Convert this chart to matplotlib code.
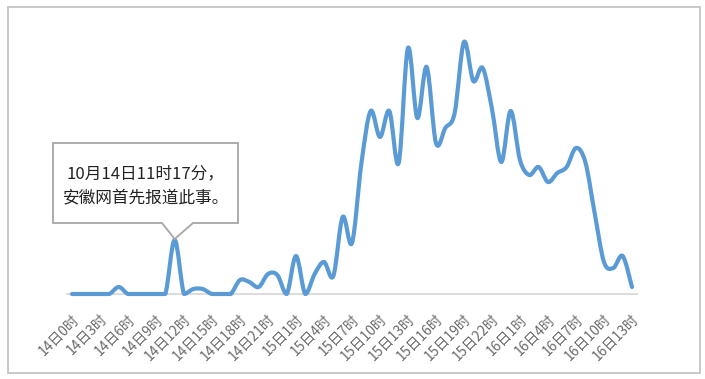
import matplotlib
matplotlib.use("Agg")
import matplotlib.pyplot as plt
import numpy as np
from matplotlib.path import Path
from matplotlib.patches import PathPatch, Polygon, Rectangle

plt.rcParams['font.family'] = ['Noto Sans CJK SC', 'DejaVu Sans']

# hourly counts, 14日0时 .. 16日13时 (61 points)
values = [0, 0, 0, 0, 0, 7, 0, 0, 0, 0,
          0, 54, 0, 5, 5, 0, 0, 0, 14, 12,
          7, 20, 19, 0, 38, 0, 20, 32, 18, 77,
          51, 130, 183, 157, 183, 131, 246, 176, 227, 151,
          166, 181, 252, 213, 226, 185, 132, 183, 134, 119,
          127, 112, 121, 127, 146, 132, 81, 32, 26, 38,
          7]
tick_labels = ["14日0时", "14日3时", "14日6时", "14日9时", "14日12时", "14日15时",
               "14日18时", "14日21时", "15日1时", "15日4时", "15日7时", "15日10时",
               "15日13时", "15日16时", "15日19时", "15日22时", "16日1时", "16日4时",
               "16日7时", "16日10时", "16日13时"]
callout_idx = 11
callout_text = "10月14日11时17分，\n安徽网首先报道此事。"

W, H = 705, 379
fig = plt.figure(figsize=(W / 100, H / 100), dpi=100)
ax = fig.add_axes([72 / W - 0.5 * 9.333 / W, 1 - 294 / H, (60 + 1) * 9.333 / W, 270 / H])

x = np.arange(len(values))
y = np.array(values, dtype=float)

# smooth line like Excel: cubic bezier segments through every point
verts = [(x[0], y[0])]
codes = [Path.MOVETO]
n = len(x)
for i in range(n - 1):
    p0 = np.array([x[max(i - 1, 0)], y[max(i - 1, 0)]])
    p1 = np.array([x[i], y[i]])
    p2 = np.array([x[i + 1], y[i + 1]])
    p3 = np.array([x[min(i + 2, n - 1)], y[min(i + 2, n - 1)]])
    c1 = p1 + (p2 - p0) / 6
    c2 = p2 - (p3 - p1) / 6
    c1[1] = max(c1[1], 0)
    c2[1] = max(c2[1], 0)
    verts += [tuple(c1), tuple(c2), tuple(p2)]
    codes += [Path.CURVE4] * 3
ax.add_patch(PathPatch(Path(verts, codes), facecolor='none', edgecolor='#5B9BD5',
                       lw=3.0, capstyle='round', joinstyle='round', clip_on=False, zorder=3))

ax.set_xlim(-0.5, n - 0.5)
ax.set_ylim(0, 270)
for s in ['top', 'right', 'left']:
    ax.spines[s].set_visible(False)
ax.spines['bottom'].set_color('#d9d9d9')
ax.spines['bottom'].set_linewidth(1.3)
ax.set_yticks([])
ax.set_xticks(x[::3])
ax.set_xticklabels(tick_labels, rotation=45, ha='right', va='top',
                   rotation_mode='anchor', fontsize=10, color='#6a6a6a')
ax.tick_params(axis='x', length=0, pad=13)

# callout box with pointer to the first report
def px(xp, yp):
    return (xp / W, 1 - yp / H)

tip = ax.transData.transform((callout_idx, values[callout_idx]))
tip_px = (tip[0], H - tip[1] - 1)
shape = [px(53, 143), px(238, 143), px(238, 223), px(193, 223), px(tip_px[0], tip_px[1]),
         px(162, 223), px(53, 223)]
fig.patches.append(Polygon(shape, closed=True, transform=fig.transFigure, facecolor='white',
                           edgecolor='#a6a6a6', lw=1.3, zorder=5))
fig.text(145.5 / W, 1 - 186 / H, callout_text, ha='center', va='center', fontsize=12,
         color='#222222', linespacing=1.55, zorder=6)

# outer chart border
fig.patches.append(Rectangle(px(7.5, 373), 692.5 / W, 366.5 / H, transform=fig.transFigure,
                             facecolor='none', edgecolor='#c8c8c8', lw=1.4, zorder=0))

fig.savefig("out.png", dpi=100)
